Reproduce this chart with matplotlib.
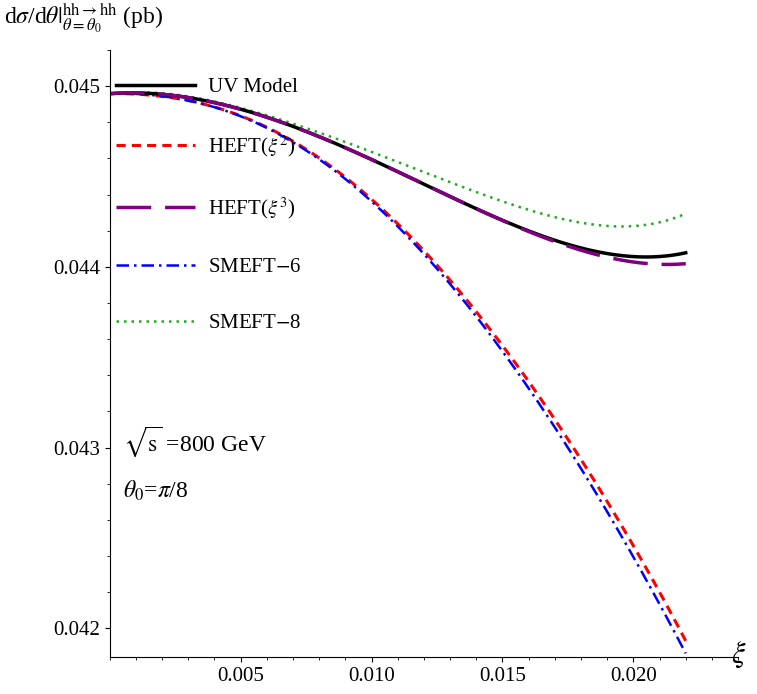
import numpy as np
import matplotlib.pyplot as plt
from matplotlib.ticker import MultipleLocator

plt.rcParams['font.family'] = 'Liberation Serif'
plt.rcParams['mathtext.fontset'] = 'stix'

xi = [0.0, 0.0025, 0.005, 0.0075, 0.01, 0.0125, 0.015, 0.0175, 0.02, 0.022]
uv = [0.04496, 0.04494, 0.04488, 0.04475, 0.04459, 0.04442, 0.04426, 0.04413, 0.04405, 0.04408]
heft3 = [0.04496, 0.04494, 0.04488, 0.04475, 0.04459, 0.04442, 0.04426, 0.04412, 0.04402, 0.04402]
smeft8 = [0.04496, 0.04494, 0.04489, 0.04478, 0.04462, 0.04449, 0.04437, 0.04427, 0.04421, 0.04430]
heft2 = [0.04496, 0.04493, 0.04484, 0.04465, 0.04437, 0.04401, 0.04357, 0.04304, 0.04246, 0.04193]
smeft6 = [0.04496, 0.04493, 0.04484, 0.04464, 0.04436, 0.04399, 0.04354, 0.04299, 0.04240, 0.04186]

fig = plt.figure(figsize=(7.57, 6.94), dpi=100)
ax = fig.add_axes([0.145, 0.053, 0.83, 0.875])
xs = np.linspace(0, 0.022, 200)
def sm(y):
    c = np.polyfit(xi, y, 5)
    return np.polyval(c, xs)
ax.plot(xs, sm(heft2), color='red', ls=(0, (3, 2)), lw=2.2, label=r'HEFT($\xi^2$)')
ax.plot(xs, sm(smeft6), color='blue', ls=(0, (5, 2, 1, 2)), lw=1.8, label='SMEFT$-$6')
ax.plot(xs, sm(smeft8), color='#22aa22', ls=(0, (1, 2)), lw=1.8, label='SMEFT$-$8')
ax.plot(xs, sm(uv), color='black', lw=2.5, label='UV Model')
ax.plot(xs, sm(heft3), color='purple', ls=(0, (10, 4)), lw=2.5, label=r'HEFT($\xi^3$)')

ax.set_xlim(0, 0.024)
ax.set_ylim(0.04184, 0.04520)
ax.spines['top'].set_visible(False)
ax.spines['right'].set_visible(False)
ax.xaxis.set_major_locator(MultipleLocator(0.005))
ax.xaxis.set_minor_locator(MultipleLocator(0.001))
ax.yaxis.set_major_locator(MultipleLocator(0.001))
ax.yaxis.set_minor_locator(MultipleLocator(0.0002))
ax.set_xticks([0.005, 0.010, 0.015, 0.020])
ax.set_xticklabels(['0.005', '0.010', '0.015', '0.020'])
ax.set_yticks([0.042, 0.043, 0.044, 0.045])
ax.set_yticklabels(['0.042', '0.043', '0.044', '0.045'])
ax.tick_params(labelsize=15)
h, l = ax.get_legend_handles_labels()
order = [3, 0, 4, 1, 2]
ax.legend([h[i] for i in order], [l[i] for i in order], loc='upper left',
          bbox_to_anchor=(-0.02, 0.985), frameon=False, fontsize=15, handlelength=3.8,
          handletextpad=0.6, labelspacing=1.75)
ax.text(0.0005, 0.04298, r'$\sqrt{\rm s}$ =800 GeV', fontsize=17)
ax.text(0.0005, 0.04272, r'$\theta_0$=$\pi$/8', fontsize=17)
fig.text(0.005, 0.965, r'd$\sigma$/d$\theta|^{\rm hh\to hh}_{\theta=\theta_0}$ (pb)', fontsize=17)
fig.text(0.965, 0.045, r'$\xi$', fontsize=22)
fig.savefig('out.png', dpi=100)
